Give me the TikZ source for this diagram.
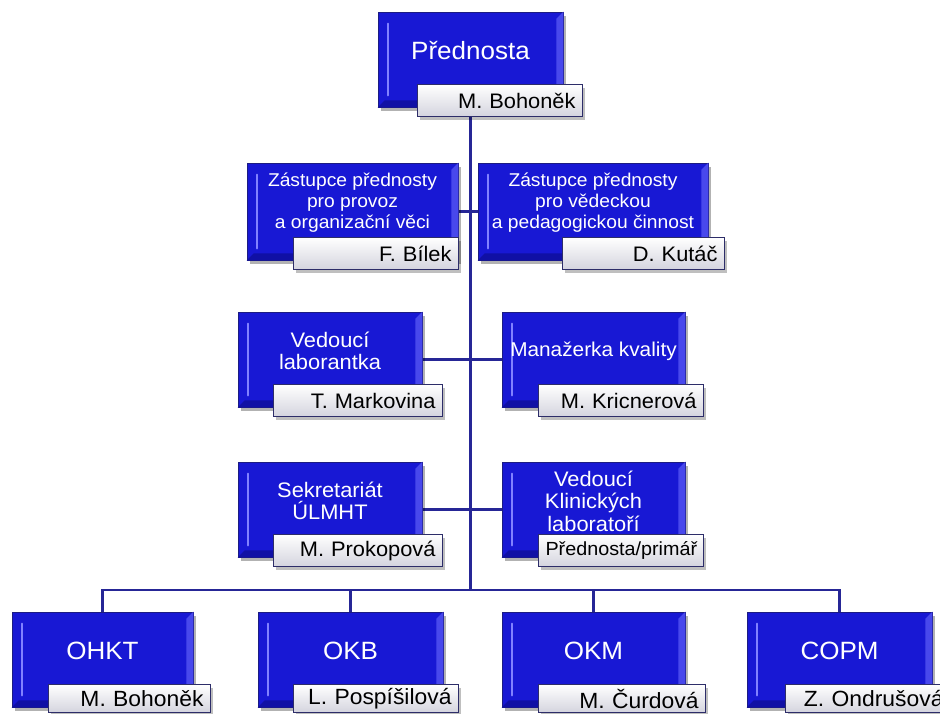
\documentclass[tikz,border=0pt]{standalone}
\usepackage{fontspec}
\setmainfont{Liberation Sans}[FakeStretch=1.04]
\usetikzlibrary{shadows,backgrounds,calc}
\definecolor{boxblue}{RGB}{24,24,212}
\definecolor{boxedge}{RGB}{28,28,130}
\definecolor{bevelr}{RGB}{72,72,236}
\definecolor{bevelb}{RGB}{16,16,165}
\definecolor{hilite}{RGB}{130,130,255}
\definecolor{linec}{RGB}{38,38,150}
\definecolor{nameedge}{RGB}{45,45,105}
\definecolor{namebot}{RGB}{212,212,222}
\tikzset{
  bluebox/.style={rectangle, fill=boxblue, draw=boxedge, line width=0.8pt, inner sep=0pt,
    drop shadow={shadow xshift=3pt, shadow yshift=-4pt, fill=black, opacity=0.3}},
  titletext/.style={text=white, align=center, inner sep=0pt},
  namebox/.style={rectangle, draw=nameedge, line width=1.1pt, top color=white, bottom color=namebot,
    inner ysep=0pt, inner xsep=7pt, align=right, text=black,
    drop shadow={shadow xshift=2pt, shadow yshift=-3pt, fill=black, opacity=0.25}},
  conn/.style={draw=linec, line width=2.8pt},
}
\def\nh{32}
\newcommand{\orgunit}[9]{%
  \pgfmathsetmacro\uw{#4-#2}%
  \pgfmathsetmacro\uh{#5-#3}%
  \pgfmathsetmacro\ucx{(#2+#4)/2}%
  \pgfmathsetmacro\ucy{(#3+#5)/2}%
  \pgfmathsetmacro\uty{(#3+#5-23)/2+3}%
  \pgfmathsetmacro\nw{#7-#6-14}%
  \node[bluebox, minimum width=\uw pt, minimum height=\uh pt] (#1) at (\ucx,\ucy) {};
  \fill[bevelr] (#1.north east) -- ++(-7,7) -- ($(#1.south east)+(-7,-7)$) -- (#1.south east) -- cycle;
  \fill[bevelb] (#1.south west) -- ++(7,-7) -- ($(#1.south east)+(-7,-7)$) -- (#1.south east) -- cycle;
  \draw[hilite, line width=2.2pt, line cap=round] ($(#1.north west)+(10,12)$) -- ($(#1.south west)+(10,-12)$);
  \node[titletext, font=\ufont] (#1t) at (\ucx,\uty) {#8};
  \node[namebox, font=\nfont, text width=\nw pt, minimum height=\nh pt, anchor=north west] (#1n) at (#6,#5-23) {#9};
}
\begin{document}
\begin{tikzpicture}[x=1pt, y=-1pt]
\useasboundingbox (0,0) rectangle (940,713);
\clip (0,0) rectangle (940,713);
\def\nfont{\fontsize{21}{24}\selectfont}
\def\ufont{\fontsize{25}{28}\selectfont}
\orgunit{pred}{378}{12}{563}{107}{417}{582}{Přednosta}{M. Bohoněk}
\def\ufont{\fontsize{18.5}{21}\selectfont}
\orgunit{zl}{247}{163}{458}{260}{293}{458}{Zástupce přednosty\\pro provoz\\a organizační věci}{F. Bílek}
\orgunit{zr}{478}{163}{708}{260}{562}{724}{Zástupce přednosty\\pro vědeckou\\a pedagogickou činnost}{D. Kutáč}
\def\ufont{\fontsize{21}{22.5}\selectfont}
\orgunit{vl}{238}{312}{422}{407}{273}{442}{Vedoucí\\laborantka}{T. Markovina}
\def\ufont{\fontsize{20}{22.5}\selectfont}
\orgunit{mk}{502}{312}{685}{407}{538}{703}{Manažerka kvality}{M. Kricnerová}
\def\ufont{\fontsize{21}{22.5}\selectfont}
\orgunit{sk}{238}{462}{422}{557}{273}{442}{Sekretariát\\ÚLMHT}{M. Prokopová}
\def\nfont{\fontsize{19}{22}\selectfont}
\orgunit{vk}{502}{462}{685}{557}{538}{703}{Vedoucí\\Klinických\\laboratoří}{Přednosta/primář}
\def\ufont{\fontsize{25}{28}\selectfont}
\def\nfont{\fontsize{22}{25}\selectfont}
\def\nh{28}
\orgunit{ohkt}{12}{612}{193}{707}{48}{210}{OHKT}{M. Bohoněk}
\orgunit{okb}{258}{612}{443}{707}{293}{458}{OKB}{L. Pospíšilová}
\orgunit{okm}{502}{612}{685}{707}{538}{705}{OKM}{M. Čurdová}
\orgunit{copm}{747}{612}{932}{707}{785}{950}{COPM}{Z. Ondrušová}
\coordinate (bar) at (470.5,590);
\begin{scope}[on background layer]
  \fill[white] (0,0) rectangle (940,713);
  \draw[conn] (pred.south) -- (bar);
  \draw[conn] (zl.east) -- (zr.west);
  \draw[conn] (vl.east) -- (mk.west);
  \draw[conn] (sk.east) -- (vk.west);
  \draw[conn] (ohkt.north) |- (bar) -| (copm.north);
  \draw[conn] (okb.north) |- (bar);
  \draw[conn] (okm.north) |- (bar);
\end{scope}
\end{tikzpicture}
\end{document}
